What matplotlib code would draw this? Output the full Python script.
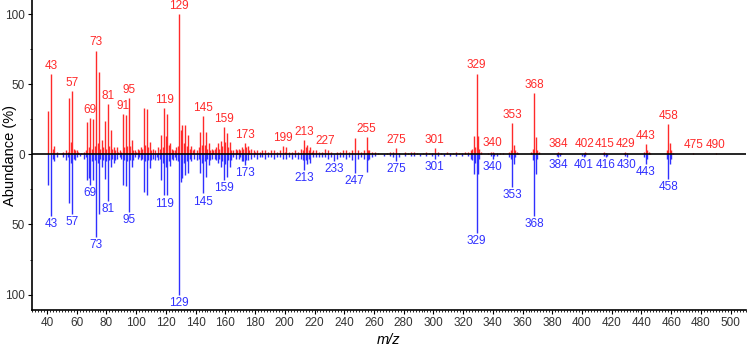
"""
Mirror plot of two mass spectra (sample up, reference down).
"""

import matplotlib.pyplot as plt
from matplotlib.ticker import MultipleLocator, FixedLocator

# main peaks (m/z, abundance %) - upper spectrum
red_major = [(41, 31), (43, 57), (55, 40), (56, 9), (57, 45), (67, 23), (69, 26), (71, 25),
             (73, 74), (75, 59), (77, 10), (79, 24), (81, 36), (83, 17), (91, 29), (93, 28),
             (95, 40), (97, 10), (105, 33), (107, 32), (109, 9), (117, 14), (119, 33),
             (121, 29), (123, 8), (129, 100), (130, 17), (131, 21), (133, 21), (135, 14),
             (137, 6), (143, 16), (145, 27), (147, 16), (149, 8), (155, 8), (157, 9.5),
             (159, 19.5), (161, 15), (163, 9), (171, 5), (173, 8), (199, 6), (213, 10),
             (215, 6.5), (217, 5), (227, 3.6), (247, 11.7), (255, 12.4), (275, 4.8),
             (301, 4.5), (327, 13), (329, 57.6), (330, 13), (340, 2), (353, 22.6), (354, 7),
             (368, 44), (369, 12), (384, 1.5), (402, 1.5), (415, 1.5), (429, 1.5), (443, 7.6),
             (444, 3), (458, 21.4), (459, 8.3), (475, 0.8), (490, 0.8)]

# small peaks - upper spectrum
red_minor = [(44, 4), (45, 6), (47, 2), (50, 1), (51, 2), (53, 3), (54, 2), (58, 4), (59, 3),
             (60, 3), (61, 2), (63, 1), (65, 2), (66, 3), (68, 5), (70, 4), (72, 6), (74, 8),
             (76, 4), (78, 5), (80, 4), (82, 6), (84, 4), (85, 5), (86, 3), (87, 5), (88, 2),
             (89, 3), (90, 2), (92, 5), (94, 6), (96, 6), (98, 3), (99, 3), (100, 2), (101, 4),
             (102, 3), (103, 5), (104, 4), (106, 7), (108, 5), (110, 3), (111, 4), (113, 3),
             (115, 5), (116, 4), (118, 5), (120, 13), (122, 7), (124, 4), (125, 3), (126, 3),
             (127, 5), (128, 6), (132, 8), (134, 6), (136, 4), (138, 3), (139, 4), (141, 3),
             (142, 5), (144, 7), (146, 7), (148, 4), (150, 3), (151, 4), (152, 3), (153, 4),
             (154, 5), (156, 4), (158, 6), (160, 9), (162, 5), (164, 3), (165, 3), (167, 4),
             (168, 3), (169, 4), (170, 3), (172, 4), (174, 5), (175, 6), (176, 3), (177, 4),
             (179, 3), (180, 2), (181, 3), (183, 2), (185, 3), (187, 3), (189, 2), (191, 3),
             (193, 3), (195, 2), (197, 3), (200, 2), (201, 5), (203, 2), (205, 2), (207, 3),
             (209, 2), (211, 4), (212, 3), (214, 5), (216, 3), (218, 2), (219, 3), (221, 3),
             (223, 2), (225, 2), (229, 3), (231, 2), (235, 2), (237, 2), (239, 3), (241, 3),
             (243, 2), (245, 3), (249, 3), (251, 2), (253, 3), (256, 3), (257, 3), (259, 2),
             (261, 2), (263, 1), (269, 1), (271, 2), (273, 2), (277, 1), (281, 2), (283, 1),
             (285, 2), (287, 2), (289, 1), (293, 1), (295, 2), (297, 1), (299, 1), (303, 2),
             (305, 1), (309, 2), (311, 1), (313, 1), (315, 2), (317, 1), (319, 1), (321, 2),
             (323, 2), (325, 3), (326, 4), (328, 5), (331, 4), (332, 2), (337, 1), (339, 2),
             (341, 1), (343, 1), (345, 1), (347, 1), (351, 2), (352, 3), (355, 3), (356, 2),
             (357, 1), (366, 2), (367, 4), (370, 3), (371, 2), (383, 1), (385, 1), (386, 1),
             (401, 1), (403, 1), (414, 1), (416, 1), (428, 1), (430, 1), (442, 2), (445, 2),
             (446, 1), (457, 3), (460, 3), (461, 1)]

# main peaks - lower spectrum
blue_major = [(41, 21.7), (43, 43.6), (55, 35), (57, 42.4), (67, 18), (68, 17), (69, 22),
              (71, 18), (73, 59), (75, 42.4), (77, 9), (79, 17.4), (81, 33), (83, 9), (85, 6),
              (91, 22), (93, 22.6), (95, 41.2), (97, 9), (105, 27), (107, 28.8), (109, 10),
              (117, 18.6), (119, 29.3), (121, 29.3), (123, 8), (129, 100), (130, 19.5),
              (131, 17), (133, 14.8), (135, 13.6), (143, 13.6), (145, 27.9), (147, 16),
              (149, 7.6), (155, 6.4), (157, 8.8), (159, 18.3), (161, 16), (163, 8.8), (171, 5),
              (173, 7.6), (213, 11), (215, 7), (217, 6), (233, 4.8), (247, 13), (255, 12.6),
              (275, 4.8), (301, 3.6), (327, 14.3), (329, 56), (330, 14), (340, 3), (353, 23.3),
              (354, 6.7), (368, 43.6), (369, 13.8), (384, 2), (401, 2), (416, 2), (430, 2),
              (443, 6.7), (458, 17.4), (459, 6.7)]

# small peaks - lower spectrum
blue_minor = [(44, 3), (45, 5), (47, 2), (51, 2), (53, 4), (54, 2), (56, 6), (58, 3), (59, 4),
              (60, 2), (62, 1), (65, 3), (66, 2), (70, 5), (72, 4), (74, 6), (76, 3), (78, 4),
              (80, 5), (82, 4), (84, 3), (86, 4), (87, 3), (89, 2), (90, 3), (92, 4), (94, 5),
              (96, 4), (98, 4), (99, 2), (101, 3), (102, 2), (103, 4), (104, 3), (106, 5),
              (108, 4), (110, 4), (111, 3), (113, 4), (114, 2), (115, 4), (116, 3), (118, 6),
              (120, 9), (122, 5), (124, 3), (125, 4), (126, 2), (127, 4), (128, 5), (132, 6),
              (134, 5), (136, 3), (137, 5), (139, 3), (141, 4), (142, 3), (144, 6), (146, 5),
              (148, 3), (150, 4), (151, 3), (153, 3), (154, 4), (156, 3), (158, 5), (160, 7),
              (162, 4), (164, 4), (165, 2), (167, 3), (169, 3), (170, 2), (172, 5), (174, 4),
              (175, 4), (177, 3), (179, 2), (181, 3), (183, 2), (185, 2), (187, 3), (189, 2),
              (191, 2), (193, 3), (195, 2), (197, 2), (199, 3), (201, 3), (203, 2), (205, 3),
              (207, 2), (209, 3), (211, 3), (212, 4), (214, 4), (216, 3), (219, 2), (221, 2),
              (223, 2), (225, 2), (227, 2), (229, 3), (231, 2), (235, 3), (237, 2), (239, 2),
              (241, 3), (243, 2), (245, 4), (249, 3), (251, 2), (253, 3), (256, 4), (257, 3),
              (259, 2), (261, 1), (267, 1), (271, 1), (273, 2), (277, 2), (281, 1), (285, 1),
              (287, 1), (291, 1), (295, 1), (299, 1), (303, 1), (307, 1), (311, 1), (315, 1),
              (319, 1), (323, 1), (325, 3), (326, 4), (328, 6), (331, 3), (339, 1), (341, 1),
              (343, 1), (351, 2), (352, 3), (355, 2), (367, 4), (370, 3), (383, 1), (385, 1),
              (400, 1), (402, 1), (415, 1), (417, 1), (429, 1), (442, 2), (444, 3), (457, 3),
              (460, 3)]

red_labels = [43, 57, 69, 73, 81, 91, 95, 119, 129, 145, 159, 173, 199, 213, 227, 255, 275,
              301, 329, 340, 353, 368, 384, 402, 415, 429, 443, 458, 475, 490]
blue_labels = [43, 57, 69, 73, 81, 95, 119, 129, 145, 159, 173, 213, 233, 247, 275, 301, 329,
               340, 353, 368, 384, 401, 416, 430, 443, 458]

RED = "#ff2a2a"
BLUE = "#3030ff"

plt.rcParams["font.family"] = ["Liberation Sans", "DejaVu Sans"]

fig = plt.figure(figsize=(7.47, 3.48), dpi=100)
ax = fig.add_axes([0.043, 0.109, 0.955, 0.891])

red_all = red_major + red_minor
blue_all = blue_major + blue_minor
ax.vlines([m for m, a in red_all], 0, [a for m, a in red_all], color=RED, lw=1.0)
ax.vlines([m for m, a in blue_all], 0, [-a for m, a in blue_all], color=BLUE, lw=1.0)
ax.axhline(0, color="black", lw=1.2, zorder=3)

red_lookup = dict(red_major)
blue_lookup = dict(blue_major)
for m in red_labels:
    ax.annotate(str(m), (m, red_lookup[m]), xytext=(0, 1.5), textcoords="offset points",
                ha="center", va="bottom", color=RED, fontsize=8.5)
for m in blue_labels:
    ax.annotate(str(m), (m, -blue_lookup[m]), xytext=(0, -1.5), textcoords="offset points",
                ha="center", va="top", color=BLUE, fontsize=8.5)

ax.set_xlim(30, 510)
ax.set_ylim(-111, 110)

ax.xaxis.set_minor_locator(MultipleLocator(2))
ax.set_xticks(range(40, 501, 20))
ax.yaxis.set_major_locator(FixedLocator([-100, -50, 0, 50, 100]))
ax.yaxis.set_minor_locator(FixedLocator([-75, -25, 25, 75]))
ax.set_yticklabels(["100", "50", "0", "50", "100"])

tick_font = ["Liberation Sans Narrow", "Liberation Sans"]
for lab in ax.get_xticklabels() + ax.get_yticklabels():
    lab.set_family(tick_font)
    lab.set_fontsize(8.5)
    lab.set_color("#333333")
ax.tick_params(axis="both", which="major", length=3, width=0.8, pad=2)
ax.tick_params(axis="both", which="minor", length=1.5, width=0.6)

for s in ["top", "right"]:
    ax.spines[s].set_visible(False)
ax.spines["left"].set_linewidth(1.2)
ax.spines["bottom"].set_linewidth(1.2)

ax.set_ylabel("Abundance (%)", fontsize=10.5, va="center")
ax.yaxis.set_label_coords(-0.031, 0.5)
ax.set_xlabel("m/z", fontsize=10.5, style="italic", va="center")
ax.xaxis.set_label_coords(0.5, -0.098)

fig.savefig("out.png", dpi=100)
